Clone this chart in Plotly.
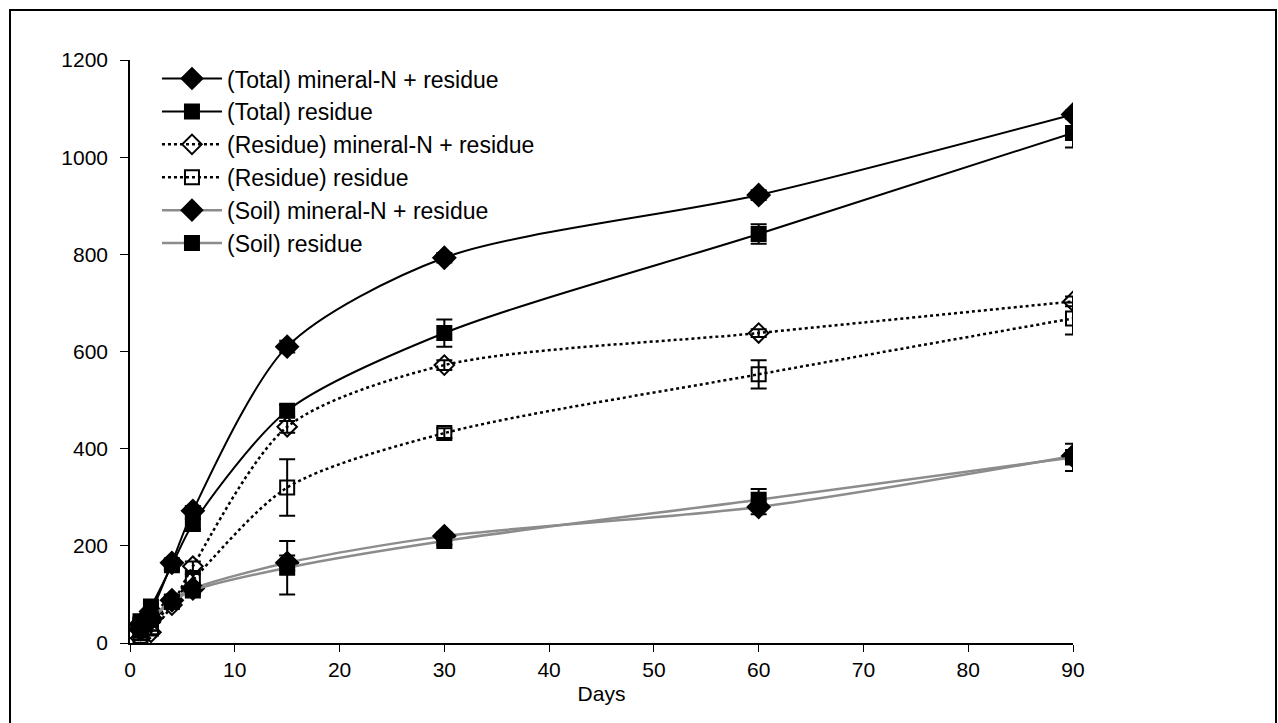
import plotly.graph_objects as go

# Sampling days
days = [1, 2, 4, 6, 15, 30, 60, 90]

# N uptake by series (same day order)
total_minN_res = [38, 65, 165, 272, 610, 793, 922, 1088]
total_res = [45, 75, 160, 245, 478, 638, 842, 1050]
residue_minN_res = [10, 22, 78, 158, 445, 572, 638, 703]
residue_res = [15, 30, 85, 130, 320, 432, 553, 668]
soil_minN_res = [28, 50, 88, 112, 165, 220, 280, 385]
soil_res = [38, 50, 85, 108, 155, 210, 295, 382]

# Error bar half-widths
err_total_minN_res = [5, 5, 8, 10, 12, 10, 10, 8]
err_total_res = [5, 5, 8, 10, 12, 28, 20, 30]
err_residue_minN_res = [4, 4, 6, 10, 12, 10, 8, 10]
err_residue_res = [4, 5, 8, 12, 58, 10, 29, 33]
err_soil_minN_res = [4, 5, 6, 8, 15, 8, 15, 12]
err_soil_res = [4, 5, 6, 8, 55, 8, 22, 28]

names = [
    "(Total) mineral-N + residue",
    "(Total) residue",
    "(Residue) mineral-N + residue",
    "(Residue) residue",
    "(Soil) mineral-N + residue",
    "(Soil) residue",
]

x_ticks = [0, 10, 20, 30, 40, 50, 60, 70, 80, 90]
y_ticks = [0, 200, 400, 600, 800, 1000, 1200]

series = [
    (names[0], total_minN_res, err_total_minN_res, "black", "solid", 2, "diamond", "black", 17),
    (names[1], total_res, err_total_res, "black", "solid", 2, "square", "black", 14),
    (names[2], residue_minN_res, err_residue_minN_res, "black", "dot", 2.5, "diamond-open", "black", 15),
    (names[3], residue_res, err_residue_res, "black", "dot", 2.5, "square-open", "black", 14),
    (names[4], soil_minN_res, err_soil_minN_res, "#8c8c8c", "solid", 2.5, "diamond", "black", 17),
    (names[5], soil_res, err_soil_res, "#8c8c8c", "solid", 2.5, "square", "black", 14),
]

fig = go.Figure()
for name, vals, errs, lcol, dash, lw, sym, mcol, msize in series:
    fig.add_trace(go.Scatter(
        x=days, y=vals, name=name, mode="lines+markers",
        line=dict(color=lcol, dash=dash, width=lw, shape="spline", smoothing=0.8),
        marker=dict(symbol=sym, size=msize, color=mcol,
                    line=dict(color="black", width=2)),
        error_y=dict(type="data", array=errs, visible=True,
                     color="black", thickness=2, width=8),
    ))

fig.update_layout(
    width=1278, height=723,
    margin=dict(l=130, r=205, t=60, b=80),
    paper_bgcolor="white", plot_bgcolor="white",
    font=dict(family="Liberation Sans, Arial, sans-serif", size=21, color="black"),
    showlegend=True,
    legend=dict(x=0.0286, y=1.005, xanchor="left", yanchor="top",
                bgcolor="rgba(255,255,255,0)", font=dict(size=23),
                tracegroupgap=0, itemwidth=60),
    xaxis=dict(range=[0, 90], tickvals=x_ticks, showgrid=False, zeroline=False,
               showline=True, linecolor="black", linewidth=1.5,
               ticks="outside", ticklen=7, tickcolor="black",
               tickfont=dict(size=21),
               title=dict(text="Days", font=dict(size=21), standoff=6)),
    yaxis=dict(range=[0, 1200], tickvals=y_ticks, showgrid=False, zeroline=False,
               showline=True, linecolor="black", linewidth=1.5,
               ticks="outside", ticklen=8, tickcolor="black",
               ticklabelstandoff=8, tickfont=dict(size=21)),
    shapes=[dict(type="rect", xref="paper", yref="paper",
                 x0=-120 / 943, x1=1146 / 943, y0=-0.2, y1=1 + 50 / 583,
                 line=dict(color="black", width=2), fillcolor="rgba(0,0,0,0)")],
)

fig.write_html("out.html")
